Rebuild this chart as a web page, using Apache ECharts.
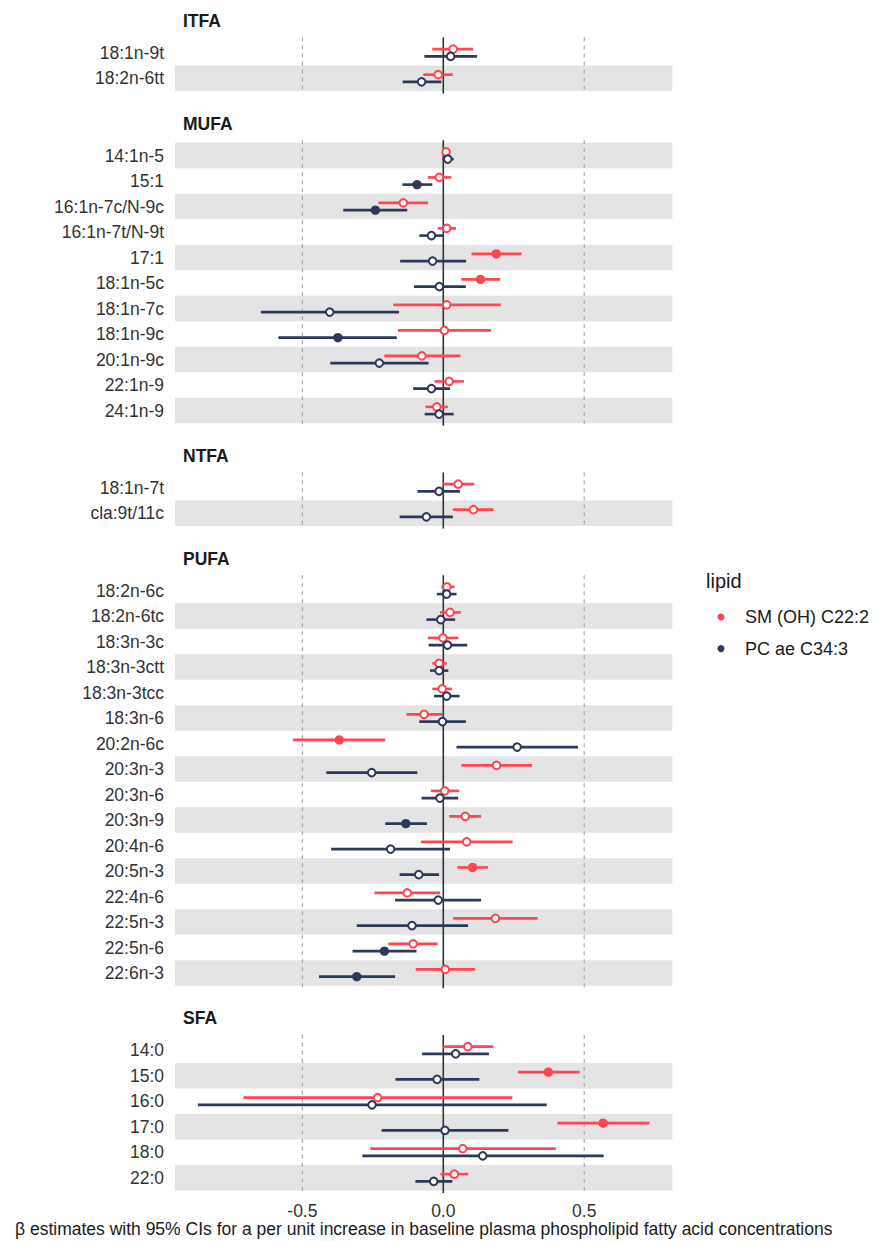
<!DOCTYPE html>
<html><head><meta charset="utf-8">
<script src="https://cdn.jsdelivr.net/npm/echarts@6/dist/echarts.min.js"></script>
<style>html,body{margin:0;padding:0;background:#fff}#c{width:873px;height:1241px}</style>
</head><body><div id="c"></div>
<script>
// ---------------- data ----------------
const panels = ['ITFA', 'MUFA', 'NTFA', 'PUFA', 'SFA'];
const categories = [
  '18:1n-9t', '18:2n-6tt',
  '14:1n-5', '15:1', '16:1n-7c/N-9c', '16:1n-7t/N-9t', '17:1', '18:1n-5c', '18:1n-7c', '18:1n-9c', '20:1n-9c', '22:1n-9', '24:1n-9',
  '18:1n-7t', 'cla:9t/11c',
  '18:2n-6c', '18:2n-6tc', '18:3n-3c', '18:3n-3ctt', '18:3n-3tcc', '18:3n-6', '20:2n-6c', '20:3n-3', '20:3n-6', '20:3n-9', '20:4n-6', '20:5n-3', '22:4n-6', '22:5n-3', '22:5n-6', '22:6n-3',
  '14:0', '15:0', '16:0', '17:0', '18:0', '22:0'
];
const panelOf = [
  'ITFA', 'ITFA',
  'MUFA', 'MUFA', 'MUFA', 'MUFA', 'MUFA', 'MUFA', 'MUFA', 'MUFA', 'MUFA', 'MUFA', 'MUFA',
  'NTFA', 'NTFA',
  'PUFA', 'PUFA', 'PUFA', 'PUFA', 'PUFA', 'PUFA', 'PUFA', 'PUFA', 'PUFA', 'PUFA', 'PUFA', 'PUFA', 'PUFA', 'PUFA', 'PUFA', 'PUFA',
  'SFA', 'SFA', 'SFA', 'SFA', 'SFA', 'SFA'
];
const lipidNames = ['SM (OH) C22:2', 'PC ae C34:3'];

const smEst = [0.035, -0.018,
  0.010, -0.014, -0.142, 0.012, 0.188, 0.132, 0.012, 0.004, -0.076, 0.021, -0.023,
  0.053, 0.107,
  0.013, 0.024, -0.001, -0.015, -0.004, -0.068, -0.369, 0.189, 0.005, 0.078, 0.083, 0.104, -0.128, 0.185, -0.107, 0.007,
  0.087, 0.373, -0.233, 0.567, 0.069, 0.039];
const smLo = [-0.039, -0.071,
  -0.003, -0.055, -0.230, -0.020, 0.100, 0.064, -0.177, -0.161, -0.209, -0.031, -0.063,
  -0.003, 0.034,
  -0.007, -0.012, -0.055, -0.039, -0.039, -0.131, -0.533, 0.064, -0.044, 0.021, -0.079, 0.050, -0.244, 0.035, -0.195, -0.098,
  -0.004, 0.265, -0.709, 0.405, -0.259, -0.010];
const smHi = [0.106, 0.034,
  0.024, 0.028, -0.054, 0.045, 0.278, 0.202, 0.204, 0.169, 0.061, 0.073, 0.016,
  0.110, 0.178,
  0.040, 0.062, 0.053, 0.012, 0.031, -0.004, -0.206, 0.315, 0.056, 0.134, 0.246, 0.159, -0.011, 0.335, -0.020, 0.113,
  0.178, 0.484, 0.245, 0.731, 0.399, 0.089];
const smSig = [0, 0,
  0, 0, 0, 0, 1, 1, 0, 0, 0, 0, 0,
  0, 0,
  0, 0, 0, 0, 0, 0, 1, 0, 0, 0, 0, 1, 0, 0, 0, 0,
  0, 1, 0, 1, 0, 0];

const pcEst = [0.026, -0.077,
  0.016, -0.093, -0.241, -0.042, -0.038, -0.014, -0.403, -0.374, -0.227, -0.042, -0.015,
  -0.015, -0.060,
  0.012, -0.009, 0.015, -0.015, 0.012, -0.003, 0.262, -0.254, -0.012, -0.133, -0.187, -0.087, -0.018, -0.111, -0.209, -0.307,
  0.044, -0.022, -0.253, 0.006, 0.140, -0.034];
const pcLo = [-0.067, -0.144,
  -0.002, -0.145, -0.355, -0.085, -0.153, -0.104, -0.647, -0.585, -0.401, -0.107, -0.066,
  -0.092, -0.155,
  -0.023, -0.060, -0.052, -0.047, -0.033, -0.085, 0.047, -0.415, -0.077, -0.206, -0.398, -0.155, -0.171, -0.307, -0.322, -0.441,
  -0.075, -0.170, -0.871, -0.219, -0.287, -0.099];
const pcHi = [0.120, -0.007,
  0.037, -0.039, -0.128, 0.001, 0.081, 0.080, -0.157, -0.165, -0.052, 0.024, 0.037,
  0.059, 0.034,
  0.047, 0.042, 0.085, 0.018, 0.058, 0.080, 0.478, -0.092, 0.053, -0.058, 0.024, -0.015, 0.134, 0.088, -0.095, -0.171,
  0.162, 0.128, 0.367, 0.231, 0.569, 0.032];
const pcSig = [0, 0,
  0, 1, 1, 0, 0, 0, 0, 1, 0, 0, 0,
  0, 0,
  0, 0, 0, 0, 0, 0, 0, 0, 0, 1, 0, 0, 0, 0, 1, 1,
  0, 0, 0, 0, 0, 0];

const xTickValues = [-0.5, 0, 0.5];
const xTickLabels = ['-0.5', '0.0', '0.5'];
const refLines = [-0.5, 0, 0.5];
const axisTitle = 'β estimates with 95% CIs for a per unit increase in baseline plasma phospholipid fatty acid concentrations';
const legendTitle = 'lipid';

// ---------------- layout / style ----------------
const FONT = '"Liberation Sans", Arial, Helvetica, sans-serif';
const rowH = 25.5, gapH = 51.75, firstTop = 40;
const gridLeft = 175, gridWidth = 497.4;
const xMin = -0.952, xMax = 0.813;
const colSM = '#FF4552', colPC = '#2C3A5A';
const bandColor = '#E4E4E4';
const dodge = 3.6;

const grids = [], xAxes = [], yAxes = [], series = [], graphics = [];
let curTop = firstTop;

panels.forEach((p, pi) => {
  const idx = panelOf.map((g, i) => g === p ? i : -1).filter(i => i >= 0);
  const cats = idx.map(i => categories[i]);
  const n = cats.length;
  const h = n * rowH;
  const isLast = pi === panels.length - 1;

  grids.push({ left: gridLeft, top: curTop, width: gridWidth, height: h, containLabel: false });
  xAxes.push({
    type: 'value', gridIndex: pi, min: xMin, max: xMax,
    splitLine: { show: false }, axisLine: { show: false }, axisTick: { show: false },
    axisLabel: {
      show: isLast, customValues: xTickValues, margin: 11,
      formatter: v => { const k = xTickValues.findIndex(t => Math.abs(t - v) < 1e-9); return k >= 0 ? xTickLabels[k] : ''; },
      fontSize: 17.5, fontFamily: FONT, color: '#333333'
    },
    name: isLast ? axisTitle : '', nameLocation: 'middle', nameGap: 27,
    nameTextStyle: { fontSize: 17.5, fontFamily: FONT, color: '#1a1a1a' }
  });
  yAxes.push({
    type: 'category', gridIndex: pi, data: cats, inverse: true, boundaryGap: true,
    axisLine: { show: false }, axisTick: { show: false }, splitLine: { show: false },
    axisLabel: { margin: 11, fontSize: 17.5, fontFamily: FONT, color: '#333333' }
  });

  // background bands
  series.push({
    type: 'custom', xAxisIndex: pi, yAxisIndex: pi, silent: true, z: 1, clip: false,
    data: cats.map(c => [xMin, c]), encode: { x: 0, y: 1 },
    renderItem: (params, api) => {
      const k = api.value(1);
      if ((n - 1 - k) % 2 !== 0) return null;
      const c = api.coord([xMin, k]);
      const hh = api.size([0, 1])[1];
      const cs = params.coordSys;
      return { type: 'rect', shape: { x: cs.x, y: c[1] - hh / 2, width: cs.width, height: hh }, style: { fill: bandColor } };
    }
  });
  // reference lines
  series.push({
    type: 'custom', xAxisIndex: pi, yAxisIndex: pi, silent: true, z: 2, clip: false,
    data: refLines.map(v => [v, cats[0]]), encode: { x: 0, y: 1 },
    renderItem: (params, api) => {
      const v = api.value(0);
      const x = api.coord([v, 0])[0];
      const cs = params.coordSys;
      const ext = rowH * 0.1;
      const zero = Math.abs(v) < 1e-9;
      return {
        type: 'line',
        shape: { x1: x, y1: cs.y - ext, x2: x, y2: cs.y + cs.height + ext },
        style: zero ? { stroke: '#333333', lineWidth: 1.6 } : { stroke: '#9a9a9a', lineWidth: 1, lineDash: [4, 4] }
      };
    }
  });
  // estimates
  [[smEst, smLo, smHi, smSig, colSM, -dodge, lipidNames[0]], [pcEst, pcLo, pcHi, pcSig, colPC, dodge, lipidNames[1]]]
    .forEach(([est, lo, hi, sig, col, dy, nm]) => {
      series.push({
        type: 'custom', name: nm, xAxisIndex: pi, yAxisIndex: pi, z: 3, clip: false,
        itemStyle: { color: col },
        dimensions: ['est', 'row', 'lo', 'hi', 'sig'],
        encode: { x: 'est', y: 'row' },
        data: idx.map(i => [est[i], categories[i], lo[i], hi[i], sig[i]]),
        renderItem: (params, api) => {
          const r = api.value(1);
          const pe = api.coord([api.value(0), r]);
          const pl = api.coord([api.value(2), r]);
          const ph = api.coord([api.value(3), r]);
          const y = pe[1] + dy;
          const filled = api.value(4) === 1;
          return {
            type: 'group', children: [
              { type: 'line', shape: { x1: pl[0], y1: y, x2: ph[0], y2: y }, style: { stroke: col, lineWidth: 2.6 } },
              filled
                ? { type: 'circle', shape: { cx: pe[0], cy: y, r: 4.7 }, style: { fill: col } }
                : { type: 'circle', shape: { cx: pe[0], cy: y, r: 3.8 }, style: { fill: '#ffffff', stroke: col, lineWidth: 2 } }
            ]
          };
        }
      });
    });

  graphics.push({
    type: 'text', left: 183, top: curTop - 18.6 - 9.5,
    style: { text: p, font: 'bold 17.5px ' + FONT, fill: '#1a1a1a' }
  });

  curTop += h + gapH;
});

graphics.push({
  type: 'text', left: 706, top: 571,
  style: { text: legendTitle, font: '20px ' + FONT, fill: '#1a1a1a' }
});

const chart = echarts.init(document.getElementById('c'), null, { renderer: 'svg' });
chart.setOption({
  animation: false,
  backgroundColor: '#ffffff',
  grid: grids, xAxis: xAxes, yAxis: yAxes, series: series, graphic: graphics,
  legend: {
    orient: 'vertical', left: 712.5, top: 603, padding: 5,
    itemWidth: 38, itemHeight: 7, itemGap: 13.6,
    data: lipidNames.map(n => ({ name: n, icon: 'circle' })),
    textStyle: { fontSize: 18, fontFamily: FONT, color: '#1a1a1a', lineHeight: 17 },
    selectedMode: false
  }
});
</script>
</body></html>
